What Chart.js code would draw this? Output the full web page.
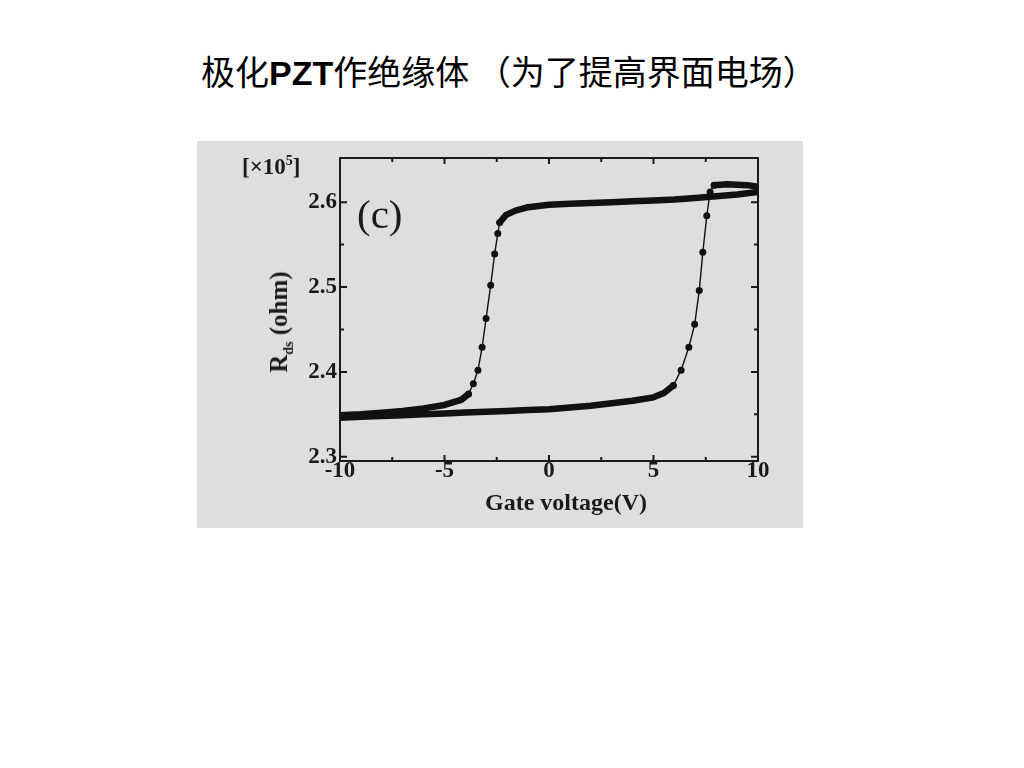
<!DOCTYPE html>
<html>
<head>
<meta charset="utf-8">
<script src="https://cdn.jsdelivr.net/npm/chart.js@4/dist/chart.umd.min.js"></script>
<style>
  body { margin: 0; width: 1024px; height: 768px; background: #fff; position: relative; overflow: hidden; }
  #title { position: absolute; left: 201px; top: 46px; font: 34px "Noto Sans CJK SC", sans-serif; color: #000; white-space: nowrap; }
  #title b { font-family: "Liberation Sans", Arial, sans-serif; font-weight: bold; }
  #box { position: absolute; left: 197px; top: 141px; width: 606px; height: 387px; background: #dedede; }
  #box canvas { position: absolute; left: 0; top: 0; }
  .lbl { position: absolute; font-family: "Liberation Serif", "DejaVu Serif", serif; color: #1a1a1a; white-space: nowrap; }
  #mult { left: 45px; top: 12px; font-size: 23px; font-weight: bold; }
  #mult sup { font-size: 14px; }
  #tag { left: 160px; top: 49px; font-size: 41px; }
  #ylab { left: 84px; top: 181px; font-size: 25px; font-weight: bold; transform: translate(-50%, -50%) rotate(-90deg); }
  #ylab sub { font-size: 14px; }
  #xlab { left: 369px; top: 361px; font-size: 24px; font-weight: bold; transform: translate(-50%, -50%); }
</style>
</head>
<body>
<div id="title">极化<b>PZT</b>作绝缘体 （为了提高界面电场）</div>
<div id="box">
  <canvas id="c" width="606" height="387"></canvas>
  <div class="lbl" id="mult">[×10<sup>5</sup>]</div>
  <div class="lbl" id="tag">(c)</div>
  <div class="lbl" id="ylab">R<sub>ds</sub> (ohm)</div>
  <div class="lbl" id="xlab">Gate voltage(V)</div>
</div>
<script>
/* hysteresis of R_ds vs gate voltage, polarised PZT gate */

// forward sweep -10 -> +10 V (lower branch, switches up near +7 V)
const fwdV = [-10, -9, -8, -7, -6, -5, -4, -3, -2, -1, 0, 1, 2, 3, 4, 5, 5.5, 5.95, 6.32, 6.69, 6.97, 7.19, 7.36, 7.55, 7.71, 7.9, 8.5, 9.5, 10];
const fwdR = [2.346, 2.347, 2.348, 2.349, 2.350, 2.351, 2.352, 2.353, 2.354, 2.355, 2.356, 2.358, 2.360, 2.363, 2.366, 2.370, 2.375, 2.384, 2.402, 2.429, 2.456, 2.496, 2.541, 2.584, 2.612, 2.620, 2.621, 2.620, 2.618];

// reverse sweep +10 -> -10 V (upper branch, switches down near -3 V)
const revV = [10, 9, 8, 7, 6, 5, 4, 3, 2, 1, 0, -1, -1.6, -2.05, -2.36, -2.45, -2.6, -2.79, -3.01, -3.2, -3.4, -3.62, -3.85, -4.2, -5, -6, -7, -8, -9, -10];
const revR = [2.612, 2.609, 2.607, 2.605, 2.603, 2.602, 2.601, 2.600, 2.599, 2.598, 2.597, 2.594, 2.590, 2.585, 2.576, 2.563, 2.539, 2.502, 2.463, 2.429, 2.402, 2.386, 2.374, 2.367, 2.361, 2.357, 2.354, 2.352, 2.350, 2.349];

// axes
const xRange = [-10, 10];
const yRange = [2.295, 2.652];
const xTicks = [-10, -5, 0, 5, 10];
const xMinor = [-7.5, -2.5, 2.5, 7.5];
const yTicks = [2.3, 2.4, 2.5, 2.6];
const yMinor = [2.35, 2.45, 2.55];

const pairs = (xs, ys) => xs.map((x, i) => ({ x, y: ys[i] }));
const INK = "#111";
const STEEP = 0.04;   // dR/dV above which the sweep is drawn as thin line + dots
const steep = (a, b) => Math.abs((b.y - a.y) / ((b.x - a.x) || 1e-9)) > STEEP;
const dotted = ctx => {
  const d = ctx.dataset.data, i = ctx.dataIndex;
  return (i > 0 && steep(d[i - 1], d[i])) || (i < d.length - 1 && steep(d[i], d[i + 1]));
};

// frame + inward ticks on all four sides, like the original plot
const frame = {
  id: "frame",
  afterDraw(chart) {
    const { ctx, chartArea: a, scales: { x, y } } = chart;
    ctx.save();
    ctx.strokeStyle = "#1a1a1a";
    ctx.lineWidth = 2;
    ctx.strokeRect(a.left, a.top, a.right - a.left, a.bottom - a.top);
    const tx = (v, len) => {
      const p = x.getPixelForValue(v);
      ctx.moveTo(p, a.bottom); ctx.lineTo(p, a.bottom - len);
      ctx.moveTo(p, a.top); ctx.lineTo(p, a.top + len);
    };
    const ty = (v, len) => {
      const p = y.getPixelForValue(v);
      ctx.moveTo(a.left, p); ctx.lineTo(a.left + len, p);
      ctx.moveTo(a.right, p); ctx.lineTo(a.right - len, p);
    };
    ctx.beginPath();
    xTicks.forEach(v => tx(v, 6)); xMinor.forEach(v => tx(v, 4));
    yTicks.forEach(v => ty(v, 7)); yMinor.forEach(v => ty(v, 4));
    ctx.stroke();
    ctx.restore();
  },
};

const serif = "'Liberation Serif', 'DejaVu Serif', serif";
const tickFont = { family: serif, size: 23, weight: "bold", lineHeight: 1 };

new Chart(document.getElementById("c"), {
  type: "line",
  data: {
    datasets: [fwdV, revV].map((vs, k) => ({
      label: k ? "reverse" : "forward",
      data: pairs(vs, k ? revR : fwdR),
      borderColor: INK, backgroundColor: INK,
      borderCapStyle: "round", borderJoinStyle: "round",
      pointRadius: ctx => dotted(ctx) ? 3.5 : 0,
      pointBorderWidth: 0,
      tension: 0,
      segment: { borderWidth: ctx => steep(ctx.p0.parsed, ctx.p1.parsed) ? 1.4 : 6.5 },
    })),
  },
  options: {
    responsive: false, animation: false, events: [],
    layout: { padding: { left: 93, right: 45, top: 17, bottom: 0 } },
    plugins: { legend: { display: false }, tooltip: { enabled: false } },
    scales: {
      x: {
        type: "linear", min: xRange[0], max: xRange[1],
        grid: { display: false }, border: { display: false },
        afterBuildTicks: s => { s.ticks = xTicks.map(value => ({ value })); },
        afterFit: s => { s.height = 67; },
        ticks: { font: tickFont, color: "#1a1a1a", padding: -9, maxRotation: 0, callback: v => String(v) },
      },
      y: {
        type: "linear", min: yRange[0], max: yRange[1],
        grid: { display: false }, border: { display: false },
        afterBuildTicks: s => { s.ticks = yTicks.map(value => ({ value })); },
        afterFit: s => { s.width = 50; },
        ticks: { font: tickFont, color: "#1a1a1a", padding: -5, callback: v => v.toFixed(1) },
      },
    },
  },
  plugins: [frame],
});
</script>
</body>
</html>
